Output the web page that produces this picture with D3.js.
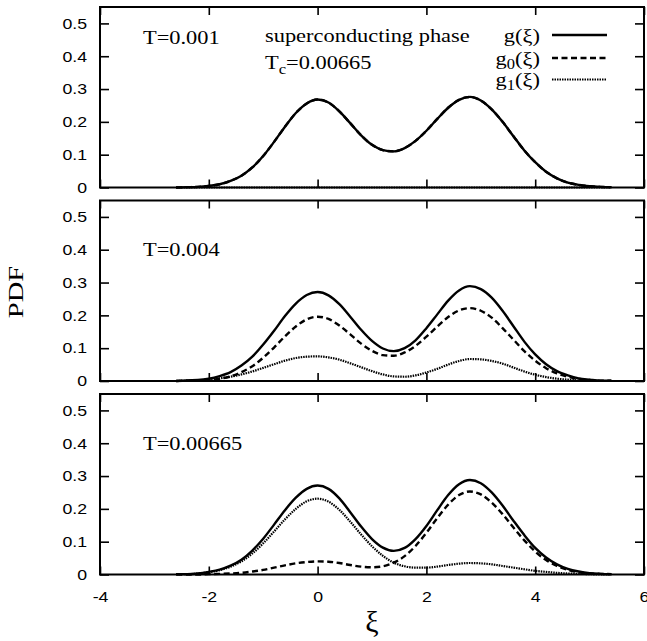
<!DOCTYPE html>
<html>
<head>
<meta charset="utf-8">
<script src="https://cdn.jsdelivr.net/npm/d3@7"></script>
<style>
  html, body { margin: 0; padding: 0; background: #fff; }
  svg { display: block; }
</style>
</head>
<body>
<svg id="chart" width="647" height="641"></svg>
<script>
// ξ grid shared by every curve
const xi = [-2.6,-2.4,-2.2,-2.0,-1.8,-1.6,-1.4,-1.2,-1.0,-0.8,-0.6,-0.4,-0.2,0.0,0.2,0.4,0.6,0.8,1.0,1.2,1.4,1.6,1.8,2.0,2.2,2.4,2.6,2.8,3.0,3.2,3.4,3.6,3.8,4.0,4.2,4.4,4.6,4.8,5.0,5.2,5.4];

// T = 0.001
const g_T1  = [0.000,0.001,0.002,0.005,0.010,0.020,0.036,0.061,0.096,0.139,0.185,0.227,0.256,0.268,0.259,0.232,0.196,0.159,0.130,0.114,0.110,0.120,0.142,0.173,0.209,0.243,0.267,0.276,0.265,0.238,0.200,0.156,0.113,0.077,0.048,0.028,0.015,0.008,0.004,0.002,0.001];
const g0_T1 = [0.000,0.001,0.002,0.005,0.010,0.020,0.036,0.061,0.096,0.139,0.185,0.227,0.256,0.268,0.259,0.232,0.196,0.159,0.130,0.114,0.110,0.120,0.142,0.173,0.209,0.243,0.267,0.276,0.265,0.238,0.200,0.156,0.113,0.077,0.048,0.028,0.015,0.008,0.004,0.002,0.001];
const g1_T1 = [0,0,0,0,0,0,0,0,0,0,0,0,0,0,0,0,0,0,0,0,0,0,0,0,0,0,0,0,0,0,0,0,0,0,0,0,0,0,0,0,0];

// T = 0.004
const g_T2  = [0.000,0.002,0.003,0.007,0.015,0.027,0.047,0.074,0.111,0.153,0.198,0.236,0.262,0.271,0.261,0.234,0.196,0.156,0.122,0.099,0.091,0.100,0.124,0.161,0.203,0.245,0.276,0.289,0.280,0.254,0.214,0.167,0.120,0.081,0.051,0.030,0.017,0.008,0.004,0.001,0.001];
const g0_T2 = [0.000,0.001,0.001,0.003,0.007,0.014,0.027,0.045,0.071,0.102,0.136,0.166,0.188,0.196,0.189,0.169,0.142,0.114,0.092,0.079,0.077,0.087,0.107,0.135,0.166,0.195,0.215,0.222,0.214,0.193,0.161,0.126,0.091,0.062,0.039,0.023,0.013,0.006,0.003,0.001,0.001];
const g1_T2 = [0.000,0.001,0.002,0.004,0.008,0.013,0.020,0.029,0.040,0.051,0.062,0.070,0.074,0.075,0.072,0.065,0.054,0.042,0.030,0.020,0.014,0.013,0.017,0.026,0.037,0.050,0.061,0.067,0.066,0.061,0.053,0.041,0.029,0.019,0.012,0.007,0.004,0.002,0.001,0.000,0.000];

// T = 0.00665
const g_T3  = [0.001,0.001,0.003,0.008,0.015,0.027,0.045,0.073,0.109,0.152,0.196,0.234,0.261,0.271,0.261,0.232,0.190,0.146,0.108,0.082,0.072,0.081,0.108,0.148,0.196,0.242,0.275,0.288,0.278,0.250,0.210,0.164,0.120,0.081,0.052,0.031,0.017,0.009,0.004,0.002,0.001];
const g0_T3 = [0.000,0.000,0.000,0.001,0.002,0.003,0.005,0.009,0.014,0.021,0.028,0.034,0.038,0.040,0.039,0.035,0.029,0.024,0.022,0.025,0.036,0.056,0.087,0.127,0.172,0.213,0.242,0.253,0.244,0.219,0.184,0.143,0.104,0.070,0.044,0.026,0.014,0.007,0.003,0.002,0.001];
const g1_T3 = [0.001,0.001,0.003,0.007,0.013,0.024,0.040,0.064,0.095,0.131,0.168,0.200,0.223,0.231,0.222,0.197,0.161,0.122,0.086,0.057,0.036,0.025,0.021,0.021,0.024,0.029,0.033,0.035,0.034,0.031,0.026,0.021,0.016,0.011,0.008,0.005,0.003,0.002,0.001,0.000,0.000];

const panelLabels = ["T=0.001", "T=0.004", "T=0.00665"];
const xTicks = [-4, -2, 0, 2, 4, 6];
const yTicks = [0, 0.1, 0.2, 0.3, 0.4, 0.5];

const panels = [
  { label: panelLabels[0], g: g_T1, g0: g0_T1, g1: g1_T1 },
  { label: panelLabels[1], g: g_T2, g0: g0_T2, g1: g1_T2 },
  { label: panelLabels[2], g: g_T3, g0: g0_T3, g1: g1_T3 }
];

const svg = d3.select("#chart");
const left = 100, right = 644;
const panelTop = [7, 200.5, 394];
const panelH = 180.5;
const SX = 1.18;               // horizontal stretch of the lettering
const sansFont = "'Liberation Sans', Arial, Helvetica, sans-serif";
const serifFont = "'Liberation Serif', 'Times New Roman', serif";

const x = d3.scaleLinear().domain([-4, 6]).range([left, right]);

const styles = {
  g:  { width: 2.4, dash: null },
  g0: { width: 2.4, dash: "6,3.5" },
  g1: { width: 2.2, dash: "1.5,1" }
};

function stretchText(sel, sx) {
  sel.each(function () {
    const t = d3.select(this);
    const tx = +t.attr("x") || 0;
    t.attr("x", tx / sx).attr("transform", `scale(${sx},1)`);
  });
}

panels.forEach((p, i) => {
  const top = panelTop[i], bottom = top + panelH;
  const y = d3.scaleLinear().domain([0, 0.55]).range([bottom, top]);
  const gp = svg.append("g");

  // curves
  const line = d3.line()
    .x((d, k) => x(xi[k]))
    .y(d => y(d))
    .curve(d3.curveMonotoneX);

  ["g", "g0", "g1"].forEach(key => {
    gp.append("path")
      .datum(p[key])
      .attr("d", line)
      .attr("fill", "none")
      .attr("stroke", "#000")
      .attr("stroke-width", styles[key].width)
      .attr("stroke-dasharray", styles[key].dash)
      .attr("stroke-linejoin", "round");
  });

  // axes with inward ticks on all four sides
  const yl = gp.append("g").attr("transform", `translate(${left},0)`)
    .call(d3.axisLeft(y).tickValues(yTicks).tickSize(-9).tickPadding(13)
      .tickFormat(d => d === 0 ? "0" : d.toFixed(1)));
  const yr = gp.append("g").attr("transform", `translate(${right},0)`)
    .call(d3.axisRight(y).tickValues(yTicks).tickSize(-9).tickFormat(""));
  const xt = gp.append("g").attr("transform", `translate(0,${top})`)
    .call(d3.axisTop(x).tickValues(xTicks).tickSize(-8).tickFormat(""));
  const xb = gp.append("g").attr("transform", `translate(0,${bottom})`)
    .call(d3.axisBottom(x).tickValues(xTicks).tickSize(-8).tickPadding(16.5)
      .tickFormat(i === 2 ? (d => String(d)) : ""));

  [yl, yr, xt, xb].forEach(a => {
    a.select(".domain").remove();
    a.selectAll(".tick line").attr("stroke", "#000").attr("stroke-width", 1.6);
    a.selectAll(".tick text")
      .attr("fill", "#000")
      .style("font-family", sansFont)
      .style("font-size", "15px");
  });
  stretchText(yl.selectAll(".tick text"), SX);
  xb.selectAll(".tick text").attr("transform", `scale(${SX},1)`);

  // frame
  gp.append("rect")
    .attr("x", left).attr("y", top)
    .attr("width", right - left).attr("height", panelH)
    .attr("fill", "none").attr("stroke", "#000").attr("stroke-width", 2);

  // temperature label
  const ly = i === 0 ? top + 36.5 : top + 55.5;
  gp.append("text")
    .attr("transform", `translate(143,${ly}) scale(${SX},1)`)
    .style("font-family", serifFont).style("font-size", "19px")
    .text(p.label);
});

// annotation in the top panel
const ann = svg.append("g").style("font-family", serifFont).style("font-size", "19px");
ann.append("text")
  .attr("transform", `translate(265,42) scale(${SX},1)`)
  .text("superconducting phase");
const tc = ann.append("text").attr("transform", `translate(265,69) scale(${SX},1)`);
tc.append("tspan").text("T");
tc.append("tspan").attr("dy", 5).style("font-size", "14px").text("c");
tc.append("tspan").attr("dy", -5).text("=0.00665");

// legend
const legend = [
  { key: "g",  sub: null, y: 35 },
  { key: "g0", sub: "0",  y: 58 },
  { key: "g1", sub: "1",  y: 79.5 }
];
legend.forEach(l => {
  const t = ann.append("text")
    .attr("text-anchor", "end")
    .attr("transform", `translate(540,${l.y + 6.5}) scale(${SX},1)`);
  t.append("tspan").text("g");
  if (l.sub) {
    t.append("tspan").attr("dy", 4).style("font-size", "14px").text(l.sub);
    t.append("tspan").attr("dy", -4).text("(ξ)");
  } else {
    t.append("tspan").text("(ξ)");
  }
  svg.append("line")
    .attr("x1", 552).attr("x2", 607)
    .attr("y1", l.y).attr("y2", l.y)
    .attr("stroke", "#000")
    .attr("stroke-width", styles[l.key].width)
    .attr("stroke-dasharray", styles[l.key].dash);
});

// axis titles
svg.append("text")
  .attr("transform", `translate(23,292) rotate(-90) scale(1.3,1)`)
  .attr("text-anchor", "middle")
  .style("font-family", serifFont).style("font-size", "22px")
  .text("PDF");
svg.append("text")
  .attr("transform", `translate(372,632)`)
  .attr("text-anchor", "middle")
  .style("font-family", serifFont).style("font-size", "30px")
  .text("ξ");
</script>
</body>
</html>
